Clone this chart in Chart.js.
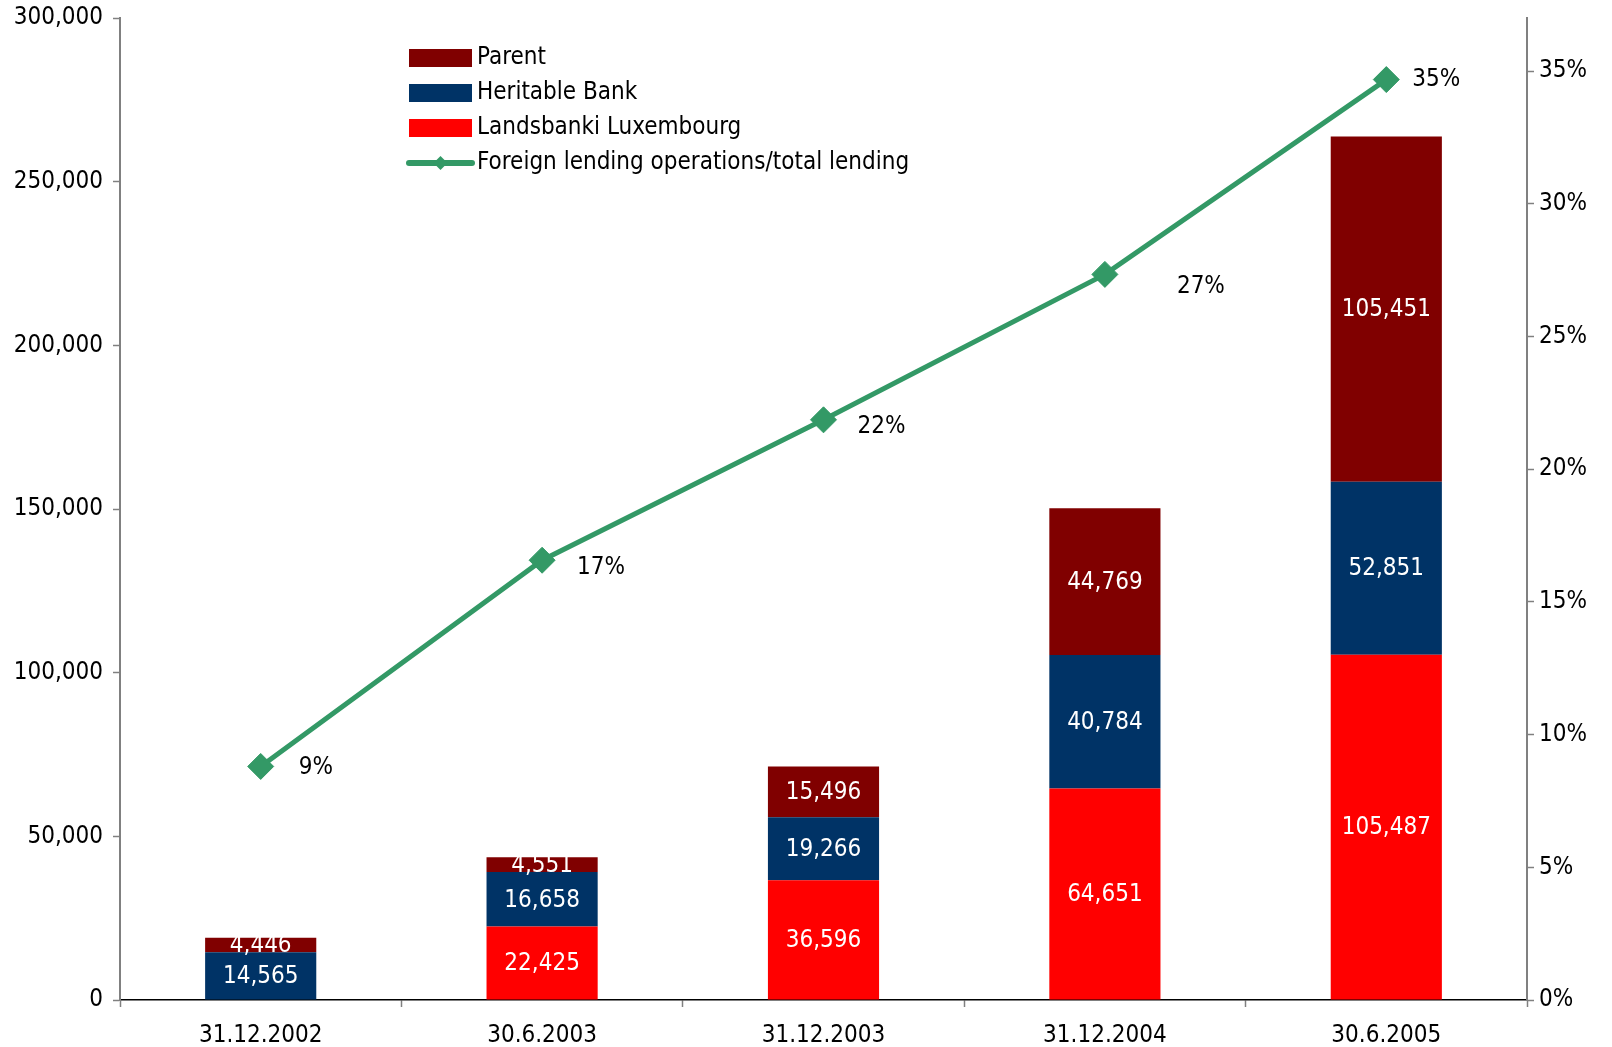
<!DOCTYPE html>
<html>
<head>
<meta charset="utf-8">
<script src="https://cdn.jsdelivr.net/npm/chart.js@4.4.1/dist/chart.umd.min.js"></script>
<style>
  html, body { margin: 0; padding: 0; background: #fff; }
  #wrap { width: 1612px; height: 1047px; }
</style>
</head>
<body>
<div id="wrap"><canvas id="lendingChart"></canvas></div>
<script>
// Periods
const periods = ['31.12.2002', '30.6.2003', '31.12.2003', '31.12.2004', '30.6.2005'];

// Lending by unit (stacked bars)
const luxembourg = [0, 22425, 36596, 64651, 105487];
const heritable = [14565, 16658, 19266, 40784, 52851];
const parentBank = [4446, 4551, 15496, 44769, 105451];

// Foreign lending operations / total lending
const foreignShare = [0.088, 0.1657, 0.2186, 0.2734, 0.3468];

// Ticks on the axes
const leftTicks = [0, 50000, 100000, 150000, 200000, 250000, 300000];
const rightTicks = [0, 0.05, 0.10, 0.15, 0.20, 0.25, 0.30, 0.35];

const FONT = '"DejaVu Sans Condensed", "DejaVu Sans", sans-serif';
const FSIZE = 24;
const GREEN = '#339966';

// nudges for the percentage labels next to the markers
const pctNudge = [[38, 1], [35, 8], [34, 7], [72, 12], [26, 0]];

const fmt = v => v.toLocaleString('en-US');

// white values inside each bar segment + percentages next to the line
const valueLabels = {
    id: 'valueLabels',
    afterDatasetsDraw(chart) {
        const ctx = chart.ctx;
        ctx.save();
        ctx.font = FSIZE + 'px ' + FONT;
        ctx.textBaseline = 'middle';
        chart.data.datasets.forEach((ds, i) => {
            const meta = chart.getDatasetMeta(i);
            meta.data.forEach((el, j) => {
                const v = ds.data[j];
                if (ds.type === 'line') {
                    const n = pctNudge[j];
                    ctx.fillStyle = '#000';
                    ctx.textAlign = 'left';
                    ctx.fillText(Math.round(v * 100) + '%', el.x + n[0], el.y + n[1]);
                } else if (v) {
                    ctx.fillStyle = '#fff';
                    ctx.textAlign = 'center';
                    ctx.fillText(fmt(v), el.x, (el.y + el.base) / 2 + 1);
                }
            });
        });
        ctx.restore();
    }
};

// legend box inside the plot area, in the order Parent / Heritable / Luxembourg / line
const innerLegend = {
    id: 'innerLegend',
    afterDraw(chart) {
        const ctx = chart.ctx;
        const order = [2, 1, 0, 3];
        const x0 = 409, y0 = 58, rowH = 35, sw = 63;
        ctx.save();
        ctx.font = FSIZE + 'px ' + FONT;
        ctx.textBaseline = 'middle';
        ctx.textAlign = 'left';
        order.forEach((idx, r) => {
            const ds = chart.data.datasets[idx];
            const y = y0 + r * rowH;
            if (ds.type === 'line') {
                ctx.strokeStyle = GREEN;
                ctx.lineWidth = 6;
                ctx.lineCap = 'round';
                ctx.beginPath();
                ctx.moveTo(x0, y);
                ctx.lineTo(x0 + sw, y);
                ctx.stroke();
                ctx.fillStyle = GREEN;
                ctx.beginPath();
                ctx.moveTo(x0 + sw / 2, y - 7);
                ctx.lineTo(x0 + sw / 2 + 7, y);
                ctx.lineTo(x0 + sw / 2, y + 7);
                ctx.lineTo(x0 + sw / 2 - 7, y);
                ctx.closePath();
                ctx.fill();
            } else {
                ctx.fillStyle = ds.backgroundColor;
                ctx.fillRect(x0, y - 9, sw, 18);
            }
            ctx.fillStyle = '#000';
            ctx.fillText(ds.label, x0 + sw + 5, y);
        });
        ctx.restore();
    }
};

// vertical axes: no extra room reserved for the half-height of the end labels
function fitVertical(width) {
    return s => {
        s.width = width;
        s.paddingTop = 0;
        s.paddingBottom = 0;
    };
}

const ctx = document.getElementById('lendingChart').getContext('2d');
new Chart(ctx, {
    data: {
        labels: periods,
        datasets: [
            { type: 'bar', label: 'Landsbanki Luxembourg', data: luxembourg, backgroundColor: '#ff0000', yAxisID: 'y', order: 2 },
            { type: 'bar', label: 'Heritable Bank', data: heritable, backgroundColor: '#003366', yAxisID: 'y', order: 2 },
            { type: 'bar', label: 'Parent', data: parentBank, backgroundColor: '#800000', yAxisID: 'y', order: 2 },
            {
                type: 'line', label: 'Foreign lending operations/total lending', data: foreignShare,
                yAxisID: 'y1', borderColor: GREEN, backgroundColor: GREEN, borderWidth: 5,
                pointStyle: 'rectRot', pointRadius: 13, pointBorderWidth: 1, pointBorderColor: GREEN,
                tension: 0, order: 1
            }
        ]
    },
    options: {
        responsive: true,
        maintainAspectRatio: false,
        animation: false,
        layout: { padding: { top: 18, left: 0, right: 0, bottom: 0 } },
        datasets: { bar: { barPercentage: 0.395, categoryPercentage: 1 } },
        plugins: {
            legend: { display: false },
            tooltip: { enabled: false }
        },
        scales: {
            x: {
                stacked: true,
                border: { color: '#000', width: 1.5 },
                grid: { display: true, drawOnChartArea: false, offset: true, tickLength: 7, tickColor: '#808080', tickWidth: 1.5 },
                ticks: { color: '#000', font: { family: FONT, size: FSIZE }, padding: 14, maxRotation: 0 },
                afterFit(s) { s.height = 47; }
            },
            y: {
                stacked: true,
                position: 'left',
                min: 0, max: 300000,
                border: { color: '#808080', width: 2 },
                grid: { drawOnChartArea: false, tickLength: 7, tickColor: '#808080', tickWidth: 1.5 },
                afterBuildTicks(s) { s.ticks = leftTicks.map(v => ({ value: v })); },
                ticks: { color: '#000', font: { family: FONT, size: FSIZE }, padding: 10, callback: v => fmt(v) },
                afterFit: fitVertical(120)
            },
            y1: {
                position: 'right',
                min: 0, max: 0.37,
                border: { color: '#808080', width: 2 },
                grid: { drawOnChartArea: false, tickLength: 7, tickColor: '#808080', tickWidth: 1.5 },
                afterBuildTicks(s) { s.ticks = rightTicks.map(v => ({ value: v })); },
                ticks: { color: '#000', font: { family: FONT, size: FSIZE }, padding: 5, callback: v => Math.round(v * 100) + '%' },
                afterFit: fitVertical(85)
            }
        }
    },
    plugins: [valueLabels, innerLegend]
});
</script>
</body>
</html>
